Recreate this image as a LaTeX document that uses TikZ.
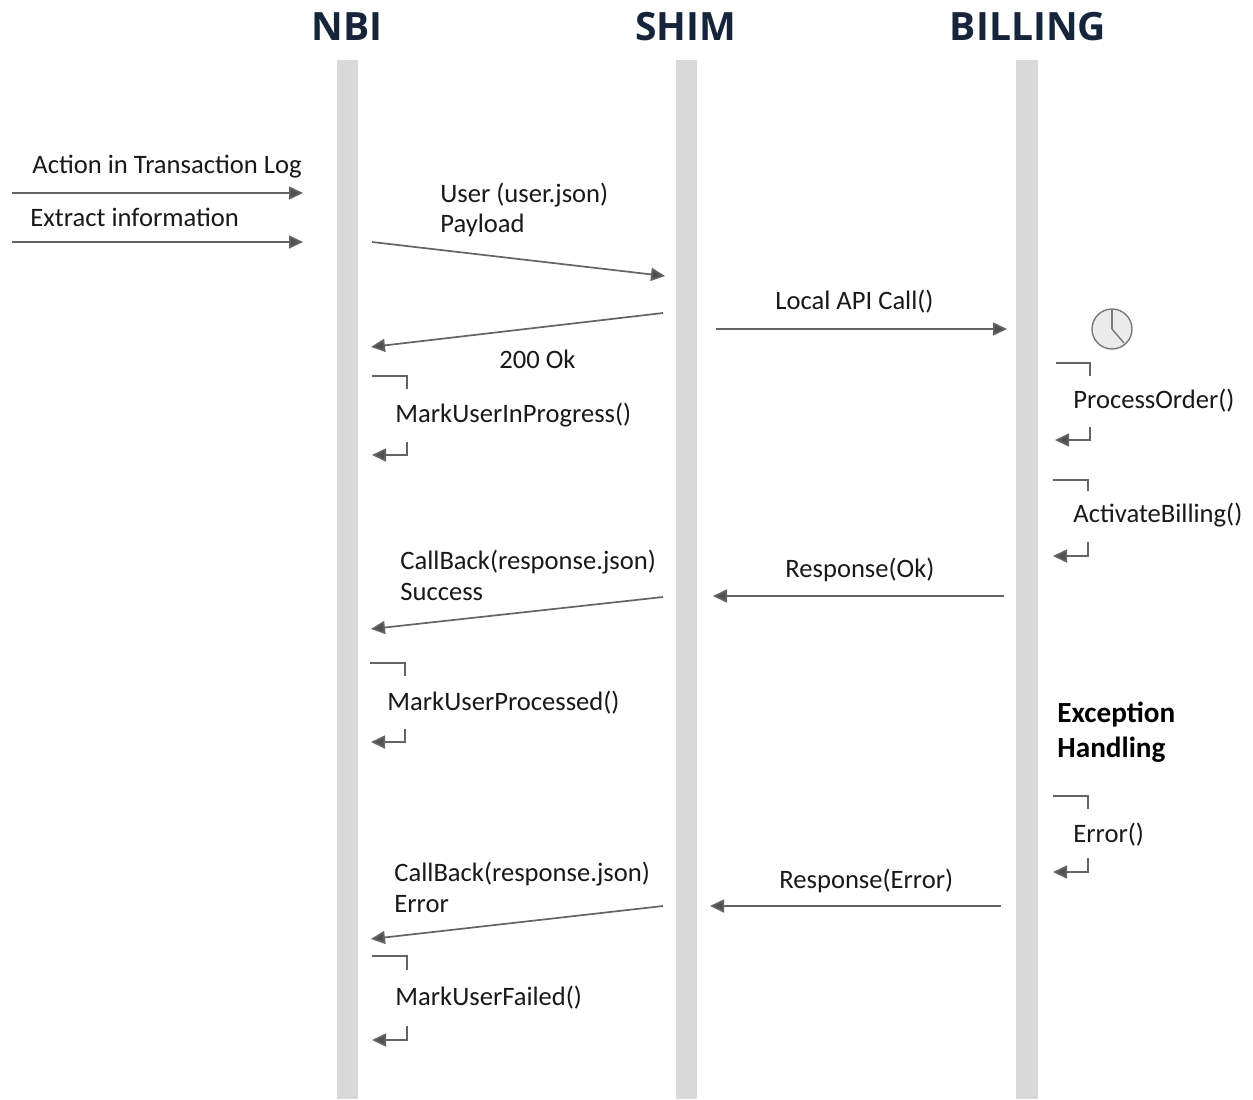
\documentclass[tikz,border=0pt]{standalone}
\usepackage{fontspec}
\setmainfont{Carlito}
\newfontfamily\titlefont{Open Sans}
\usetikzlibrary{arrows.meta}
\definecolor{lifegray}{RGB}{217,217,217}
\definecolor{linegray}{RGB}{100,100,100}
\definecolor{tipgray}{RGB}{80,80,80}
\definecolor{titleblue}{RGB}{23,37,58}
\definecolor{txtcol}{RGB}{25,25,25}
\definecolor{clockfill}{RGB}{235,235,235}
\definecolor{clockline}{RGB}{120,120,120}
\begin{document}
\begin{tikzpicture}[x=0.5pt,y=-0.5pt,
  msg/.style={draw=linegray,line width=0.85pt,-{Triangle[length=7pt,width=6.5pt,fill=tipgray]}},
  plain/.style={draw=linegray,line width=0.75pt},
  lbl/.style={inner sep=0pt,anchor=base west,text=txtcol,font=\fontsize{13.3}{15}\selectfont},
  boldlbl/.style={inner sep=0pt,anchor=base west,text=black,font=\fontsize{14.6}{17}\selectfont\bfseries},
  ttl/.style={inner sep=0pt,anchor=base,text=titleblue,font=\titlefont\fontsize{19.5}{22}\selectfont\bfseries},
  life/.style={fill=lifegray,draw=none}]
\useasboundingbox (0,0) rectangle (1253,1099);
\fill[white] (0,0) rectangle (1253,1099);

% lifelines
\path[life] (337,60) rectangle (358,1099);
\path[life] (676,60) rectangle (697,1099);
\path[life] (1016,60) rectangle (1038,1099);

% titles
\node[ttl] (tNBI) at (347,40) {NBI};
\node[ttl] (tSHIM) at (686,40) {SHIM};
\node[ttl] (tBILL) at (1028,40) {BILLING};

% incoming messages
\coordinate (a1s) at (12,193); \coordinate (a1e) at (303,193);
\draw[msg] (a1s) -- (a1e);
\node[lbl] (l1) at (32,173) {Action in Transaction Log};
\coordinate (a2s) at (12,242); \coordinate (a2e) at (303,242);
\draw[msg] (a2s) -- (a2e);
\node[lbl] (l2) at (30,226) {Extract information};

% user payload
\coordinate (a3s) at (372,242); \coordinate (a3e) at (665,276);
\draw[msg] (a3s) -- (a3e);
\node[lbl] (l3a) at (440,202) {User (user.json)};
\node[lbl] (l3b) at (440,232) {Payload};

% 200 ok
\coordinate (a4s) at (663,313); \coordinate (a4e) at (371,347);
\draw[msg] (a4s) -- (a4e);
\node[lbl] (l4) at (499,368) {200 Ok};

% MarkUserInProgress
\coordinate (s1a) at (372,376); \coordinate (s1b) at (407,376); \coordinate (s1c) at (407,389);
\draw[plain] (s1a) -- (s1b) -- (s1c);
\coordinate (s1d) at (407,442); \coordinate (s1e) at (407,455); \coordinate (s1f) at (372,455);
\draw[msg] (s1d) -- (s1e) -- (s1f);
\node[lbl] (l5) at (395,422) {MarkUserInProgress()};

% Local API call
\coordinate (a6s) at (716,329); \coordinate (a6e) at (1007,329);
\draw[msg] (a6s) -- (a6e);
\node[lbl] (l6) at (775,309) {Local API Call()};

% clock
\node[circle,draw=clockline,fill=clockfill,line width=0.7pt,minimum size=20pt,inner sep=0pt] (clk) at (1112,329) {};
\draw[clockline,line width=0.7pt] (clk.center) -- ++(0,-19);
\draw[clockline,line width=0.7pt] (clk.center) -- ++(12,14);

% ProcessOrder
\coordinate (s2a) at (1056,363); \coordinate (s2b) at (1090,363); \coordinate (s2c) at (1090,376);
\draw[plain] (s2a) -- (s2b) -- (s2c);
\coordinate (s2d) at (1090,427); \coordinate (s2e) at (1090,440); \coordinate (s2f) at (1055,440);
\draw[msg] (s2d) -- (s2e) -- (s2f);
\node[lbl] (l7) at (1073,408) {ProcessOrder()};

% ActivateBilling
\coordinate (s3a) at (1053,480); \coordinate (s3b) at (1088,480); \coordinate (s3c) at (1088,491);
\draw[plain] (s3a) -- (s3b) -- (s3c);
\coordinate (s3d) at (1088,542); \coordinate (s3e) at (1088,556); \coordinate (s3f) at (1053,556);
\draw[msg] (s3d) -- (s3e) -- (s3f);
\node[lbl] (l8) at (1073,522) {ActivateBilling()};

% Response(Ok)
\coordinate (a9s) at (1004,596); \coordinate (a9e) at (713,596);
\draw[msg] (a9s) -- (a9e);
\node[lbl] (l9) at (785,577) {Response(Ok)};

% CallBack success
\coordinate (a10s) at (663,597); \coordinate (a10e) at (371,629);
\draw[msg] (a10s) -- (a10e);
\node[lbl] (l10a) at (400,569) {CallBack(response.json)};
\node[lbl] (l10b) at (400,600) {Success};

% MarkUserProcessed
\coordinate (s4a) at (370,663); \coordinate (s4b) at (405,663); \coordinate (s4c) at (405,676);
\draw[plain] (s4a) -- (s4b) -- (s4c);
\coordinate (s4d) at (405,729); \coordinate (s4e) at (405,742); \coordinate (s4f) at (371,742);
\draw[msg] (s4d) -- (s4e) -- (s4f);
\node[lbl] (l11) at (387,710) {MarkUserProcessed()};

% Exception handling
\node[boldlbl] (ex1) at (1057,722) {Exception};
\node[boldlbl] (ex2) at (1057,757) {Handling};

% Error()
\coordinate (s5a) at (1053,796); \coordinate (s5b) at (1088,796); \coordinate (s5c) at (1088,809);
\draw[plain] (s5a) -- (s5b) -- (s5c);
\coordinate (s5d) at (1088,858); \coordinate (s5e) at (1088,872); \coordinate (s5f) at (1053,872);
\draw[msg] (s5d) -- (s5e) -- (s5f);
\node[lbl] (l12) at (1073,842) {Error()};

% Response(Error)
\coordinate (a13s) at (1001,906); \coordinate (a13e) at (710,906);
\draw[msg] (a13s) -- (a13e);
\node[lbl] (l13) at (779,888) {Response(Error)};

% CallBack error
\coordinate (a14s) at (663,906); \coordinate (a14e) at (371,939);
\draw[msg] (a14s) -- (a14e);
\node[lbl] (l14a) at (394,881) {CallBack(response.json)};
\node[lbl] (l14b) at (394,912) {Error};

% MarkUserFailed
\coordinate (s6a) at (372,956); \coordinate (s6b) at (407,956); \coordinate (s6c) at (407,970);
\draw[plain] (s6a) -- (s6b) -- (s6c);
\coordinate (s6d) at (407,1026); \coordinate (s6e) at (407,1040); \coordinate (s6f) at (372,1040);
\draw[msg] (s6d) -- (s6e) -- (s6f);
\node[lbl] (l15) at (395,1005) {MarkUserFailed()};
\end{tikzpicture}
\end{document}
